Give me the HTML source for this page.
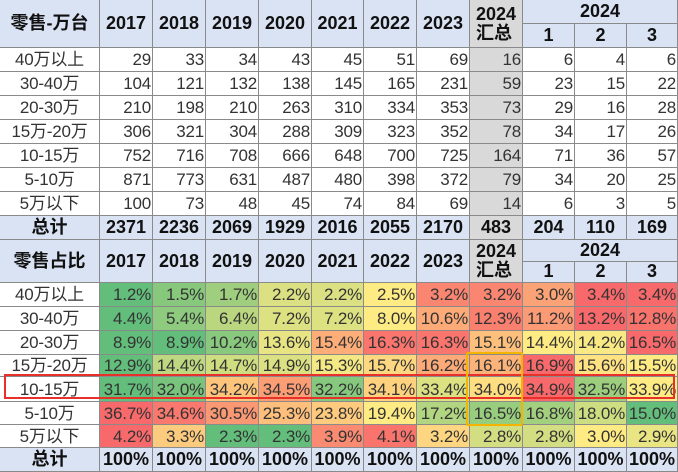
<!DOCTYPE html>
<html><head><meta charset="utf-8"><style>
body{margin:0;width:678px;height:472px;background:#fff;overflow:hidden;position:relative;font-family:"Liberation Sans","Noto Sans CJK SC",sans-serif;}
.c{position:absolute;box-sizing:border-box;border-right:1px solid #8a8a8a;border-bottom:1px solid #8a8a8a;font-size:17px;color:#333;line-height:1;display:flex;align-items:center;justify-content:flex-end;padding-right:1px;white-space:nowrap;letter-spacing:-0.2px;}
.h{justify-content:center;padding:0;font-weight:bold;font-size:18px;background:#dae3f3;color:#111;line-height:1.05;letter-spacing:0;}
.l{justify-content:center;padding:0;}
.b{font-weight:bold;}
</style></head><body>
<div id="r"></div>
<div style="position:absolute;left:4px;top:374px;width:671px;height:25px;border:2px solid #e8302a;box-sizing:border-box;"></div>
<div style="position:absolute;left:466px;top:352px;width:57px;height:74px;border:2px solid #f5b400;box-sizing:border-box;border-radius:2px;"></div>
<script>
(function(){
const X=[0,100,153,206,259,312,364,417,470,523,575,627,678];
const r=document.getElementById('r');
function cell(x0,x1,y0,y1,txt,cls,bg){const d=document.createElement('div');d.className='c '+(cls||'');d.style.left=X[x0]+'px';d.style.width=(X[x1]-X[x0])+'px';d.style.top=y0+'px';d.style.height=(y1-y0)+'px';if(bg)d.style.background=bg;d.innerHTML=txt;r.appendChild(d);}
const labels=['40万以上','30-40万','20-30万','15万-20万','10-15万','5-10万','5万以下'];
const yrs=['2017','2018','2019','2020','2021','2022','2023'];
function header(y0,y1,title){
 cell(0,1,y0,y1,title,'h');
 yrs.forEach((y,i)=>cell(i+1,i+2,y0,y1,y,'h'));
 const m=y0+(y1-y0)/2;
 cell(8,9,y0,y1,'2024<br>汇总','h','#d9d9d9');
 cell(9,12,y0,m,'2024','h');
 ['1','2','3'].forEach((t,i)=>cell(9+i,10+i,m,y1,t,'h'));
}
const topData=[[29,33,34,43,45,51,69,16,6,4,6],[104,121,132,138,145,165,231,59,23,15,22],[210,198,210,263,310,334,353,73,29,16,28],[306,321,304,288,309,323,352,78,34,17,26],[752,716,708,666,648,700,725,164,71,36,57],[871,773,631,487,480,398,372,79,34,20,25],[100,73,48,45,74,84,69,14,6,3,5]];
const tot=[2371,2236,2069,1929,2016,2055,2170,483,204,110,169];
header(0,48,'零售-万台');
topData.forEach((row,ri)=>{const y0=48+ri*24;cell(0,1,y0,y0+24,labels[ri],'l');row.forEach((v,i)=>cell(i+1,i+2,y0,y0+24,v,'',i==7?'#d9d9d9':''));});
cell(0,1,216,240,'总计','h');tot.forEach((v,i)=>cell(i+1,i+2,216,240,v,'h b',i==7?'#d9d9d9':'#dae3f3'));
const pct=[[1.2,1.5,1.7,2.2,2.2,2.5,3.2,3.2,3.0,3.4,3.4],[4.4,5.4,6.4,7.2,7.2,8.0,10.6,12.3,11.2,13.2,12.8],[8.9,8.9,10.2,13.6,15.4,16.3,16.3,15.1,14.4,14.2,16.5],[12.9,14.4,14.7,14.9,15.3,15.7,16.2,16.1,16.9,15.6,15.5],[31.7,32.0,34.2,34.5,32.2,34.1,33.4,34.0,34.9,32.5,33.9],[36.7,34.6,30.5,25.3,23.8,19.4,17.2,16.5,16.8,18.0,15.0],[4.2,3.3,2.3,2.3,3.9,4.1,3.2,2.8,2.8,3.0,2.9]];
const G=[99,190,123],Y=[255,235,132],R=[248,105,107];
function mix(a,b,t){return 'rgb('+a.map((v,i)=>Math.round(v+(b[i]-v)*t)).join(',')+')';}
function col(v,row){const s=[...row].sort((a,b)=>a-b);const mn=s[0],mx=s[s.length-1],md=s[5];
 if(v<=md)return mix(G,Y,md==mn?1:(v-mn)/(md-mn));return mix(Y,R,(v-md)/(mx-md));}
header(240,283,'零售占比');
const ys=[283,307,331,355,377,402,425,448,472];
pct.forEach((row,ri)=>{cell(0,1,ys[ri],ys[ri+1],labels[ri],'l');row.forEach((v,i)=>cell(i+1,i+2,ys[ri],ys[ri+1],v.toFixed(1)+'%','',col(v,row)));});
cell(0,1,448,472,'总计','h');for(let i=0;i<11;i++)cell(i+1,i+2,448,472,'100%','h b');
})();
</script>
</body></html>
